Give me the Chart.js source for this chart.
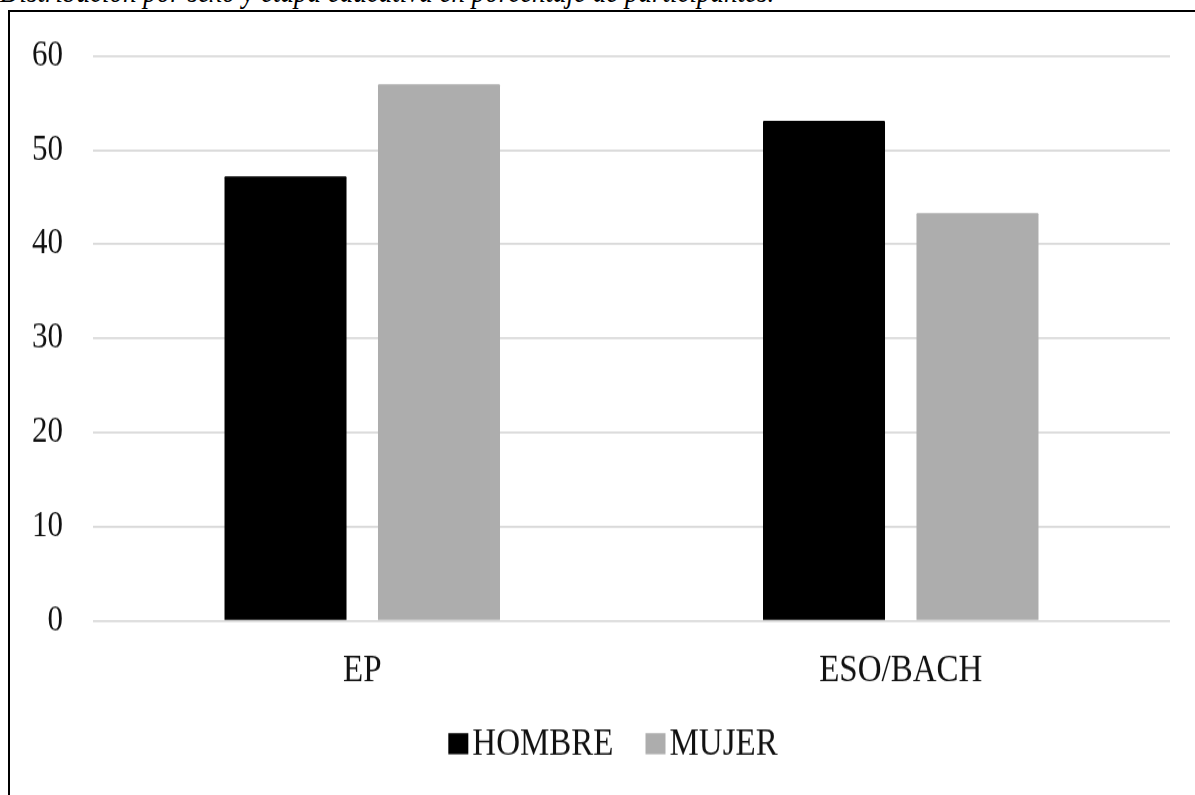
<!DOCTYPE html>
<html>
<head>
<meta charset="utf-8">
<script src="https://cdn.jsdelivr.net/npm/chart.js@4"></script>
<style>
  html, body { margin: 0; padding: 0; background: #fff; overflow: hidden; width: 1195px; height: 795px; }
  #caption { position: absolute; left: 0; top: -20px; font: italic 27px/27px "Liberation Serif", serif; white-space: nowrap; color: #000;
             transform: scaleY(1.15); transform-origin: 0 22.6px; }
  #frame { position: absolute; left: 8px; top: 10px; width: 1210px; height: 810px; border: 2px solid #000; box-sizing: border-box; }
  #wrap { position: absolute; left: 0; top: 0; width: 1195px; height: 795px; }
  /* the figure is drawn slightly taller than wide-proportioned type */
  #c { transform: scaleY(1.1505); transform-origin: 0 0; }
</style>
</head>
<body>
<div id="caption">Distribución por sexo y etapa educativa en porcentaje de participantes.</div>
<div id="frame"></div>
<div id="wrap"><canvas id="c" width="1195" height="691"></canvas></div>
<script>
// Educational stage categories
const categories = ['EP', 'ESO/BACH'];
// Percentage of participants by sex
const hombre = [47.2, 53.1];
const mujer = [57.0, 43.3];
const seriesNames = ['HOMBRE', 'MUJER'];
const yTicks = [0, 10, 20, 30, 40, 50, 60];

const FONT = '"Liberation Serif", "Times New Roman", serif';
const TEXT = '#111';

// Compact legend drawn below the axis: square key followed closely by its label
const bottomKey = {
  id: 'bottomKey',
  afterDraw(chart) {
    const ctx = chart.ctx;
    ctx.save();
    ctx.font = '33px ' + FONT;
    ctx.textBaseline = 'middle';
    const box = 20, boxH = 18.3, gapText = 4, gapItem = 32;
    const items = chart.data.datasets.map(d => ({ text: d.label, color: d.backgroundColor }));
    let total = 0;
    items.forEach((it, i) => {
      it.w = box + gapText + ctx.measureText(it.text).width;
      total += it.w + (i ? gapItem : 0);
    });
    let x = 613 - total / 2;
    const y = 646.4;
    items.forEach(it => {
      ctx.fillStyle = it.color;
      ctx.fillRect(x, y - boxH / 2, box, boxH);
      ctx.fillStyle = TEXT;
      ctx.fillText(it.text, x + box + gapText, y + 1);
      x += it.w + gapItem;
    });
    ctx.restore();
  }
};

new Chart(document.getElementById('c'), {
  type: 'bar',
  data: {
    labels: categories,
    datasets: [
      { label: seriesNames[0], data: hombre, backgroundColor: '#000000', borderRadius: 1 },
      { label: seriesNames[1], data: mujer, backgroundColor: '#adadad', borderRadius: 1 }
    ]
  },
  options: {
    responsive: false,
    animation: false,
    devicePixelRatio: 1,
    categoryPercentage: 0.57,
    barPercentage: 0.795,
    layout: { padding: { top: 48.2, right: 25, bottom: 73.5, left: 0 } },
    plugins: {
      legend: { display: false },
      tooltip: { enabled: false },
      title: { display: false }
    },
    scales: {
      x: {
        grid: { display: false, drawTicks: false },
        border: { display: false },
        ticks: { color: TEXT, font: { family: FONT, size: 33 }, padding: 24 },
        afterFit(scale) { scale.height = 78; }
      },
      y: {
        min: 0,
        max: 60,
        afterBuildTicks(scale) { scale.ticks = yTicks.map(v => ({ value: v })); },
        grid: { color: '#d9d9d9', lineWidth: 1.75, drawTicks: false },
        border: { display: false },
        ticks: { color: TEXT, font: { family: FONT, size: 31 }, padding: 30 },
        afterFit(scale) { scale.width = 93; }
      }
    }
  },
  plugins: [bottomKey]
});
</script>
</body>
</html>
